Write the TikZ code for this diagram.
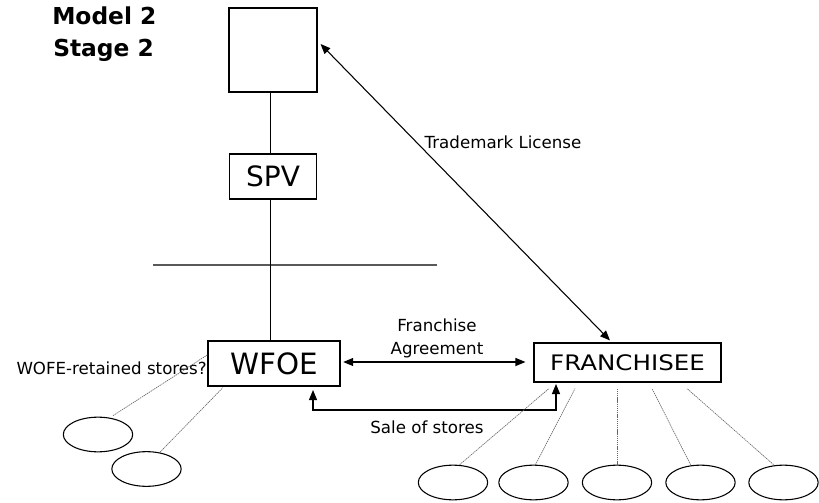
\documentclass[tikz,border=0pt]{standalone}
\usepackage{fontspec}
\setmainfont{DejaVu Sans}
\newfontfamily\widefont[FakeStretch=1.15]{DejaVu Sans}
\usetikzlibrary{arrows.meta,shapes.geometric}
\begin{document}
\begin{tikzpicture}[x=0.75pt,y=-0.75pt,
  box/.style={draw=black,line width=0.8pt,inner sep=0pt,fill=white},
  store/.style={draw=black,line width=0.8pt,ellipse,inner sep=0pt,minimum width=52pt,minimum height=26pt},
  link/.style={draw=black,line width=0.8pt},
  tie/.style={draw=black!60,line width=0.5pt,dash pattern=on 1pt off 0.6pt},
  biarrow/.style={draw=black,line width=0.8pt,{Triangle[length=7.5pt,width=6pt]}-{Triangle[length=7.5pt,width=6pt]}},
  lbl/.style={font=\fontsize{12.5}{15}\selectfont,inner sep=0pt},
  ttl/.style={font=\fontsize{17.5}{20}\selectfont\bfseries,inner sep=0pt,anchor=base west}]
\useasboundingbox (0,0) rectangle (819,503);

% titles
\node[ttl] (t1) at (52,25) {Model 2};
\node[ttl] (t2) at (53,57) {Stage 2};

% boxes
\node[box,minimum width=66pt,minimum height=63pt] (top) at (273,50) {};
\node[box,minimum width=65.25pt,minimum height=33.75pt,font=\fontsize{21}{24}\selectfont] (spv) at (273,176.5) {SPV};
\node[box,minimum width=99pt,minimum height=33.75pt,font=\fontsize{22}{26}\selectfont] (wfoe) at (274,363.5) {WFOE};
\node[box,minimum width=140.25pt,minimum height=29.25pt,font=\widefont\fontsize{16}{19}\selectfont] (fr) at (627.5,362.5) {FRANCHISEE};

% vertical structure
\coordinate (hl1) at (153,265);
\coordinate (hl2) at (437,265);
\draw[draw=black!65,line width=1.1pt] (hl1) -- (hl2);
\draw[link] ([xshift=-2]top.south) -- ([xshift=-2]top.south |- spv.north);
\draw[link] ([xshift=-2]spv.south) -- ([xshift=-2]spv.south |- wfoe.north);

% trademark license
\draw[biarrow] ([shift={(3,-6)}]top.east) -- ([shift={(-17.5,-2)}]fr.north);
\node[lbl] (tm) at (503,142) {Trademark License};

% franchise agreement
\draw[biarrow] ([xshift=2]wfoe.east |- 0,362) -- ([xshift=-6]fr.west |- 0,362);
\node[lbl] (fa1) at (437,325) {Franchise};
\node[lbl] (fa2) at (437,350) {Agreement};

% sale of stores
\coordinate (s1) at (313,410);
\coordinate (s2) at (556,410);
\draw[biarrow] (313,390) -- (s1) -- (s2) -- (556,384);
\node[lbl] (sale) at (427,427) {Sale of stores};

% WOFE retained stores
\node[lbl,anchor=east] (ret) at (207,368) {WOFE-retained stores?};
\node[store] (l1) at (98,434.5) {};
\node[store] (l2) at (146.5,469) {};
\draw[tie] ([shift={(15,-1)}]l1.north) -- ([yshift=6.5]wfoe.west);
\draw[tie] ([shift={(13.5,1)}]l2.north) -- ([shift={(-51,1)}]wfoe.south);

% franchisee stores
\node[store] (r1) at (453,482.5) {};
\node[store] (r2) at (533.5,482.5) {};
\node[store] (r3) at (617,482.5) {};
\node[store] (r4) at (700.5,482.5) {};
\node[store] (r5) at (783.5,482.5) {};
\draw[tie] ([xshift=5]r1.north) -- ([shift={(-78.5,6)}]fr.south);
\draw[tie] ([xshift=1.5]r2.north) -- ([shift={(-52.5,6)}]fr.south);
\draw[tie] (r3.north) -- ([shift={(-10.5,6)}]fr.south);
\draw[tie] ([xshift=-7.5]r4.north) -- ([shift={(24.5,6)}]fr.south);
\draw[tie] ([xshift=-7.5]r5.north) -- ([shift={(59.5,6)}]fr.south);
\end{tikzpicture}
\end{document}
